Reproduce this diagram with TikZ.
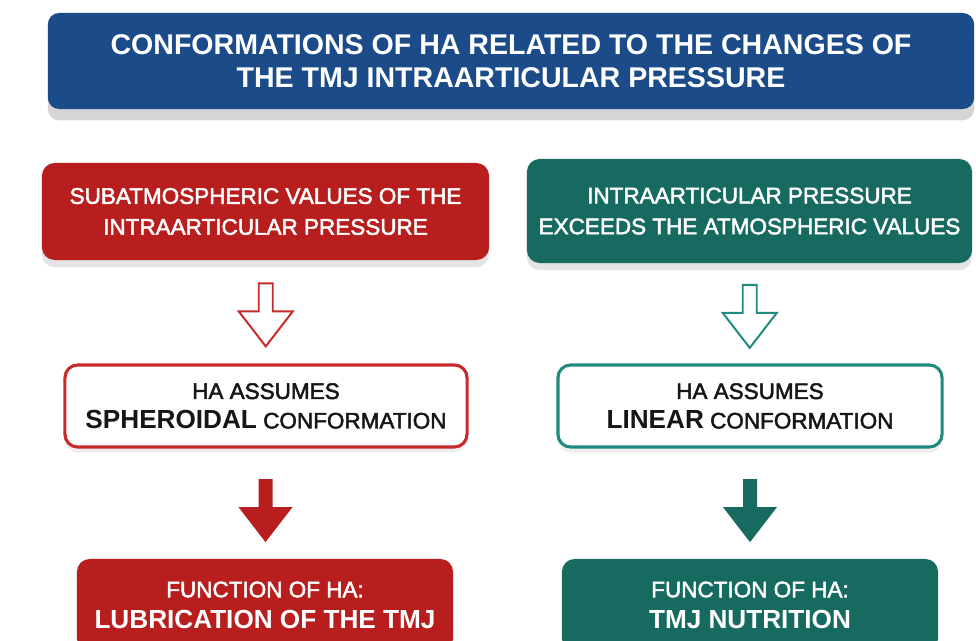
\documentclass[tikz,border=0pt]{standalone}
\usepackage{fontspec}
\setmainfont{Liberation Sans}
\newfontfamily\hamed{Liberation Sans}[RawFeature={embolden=2.2}]
\usetikzlibrary{calc,shadows}
\definecolor{HaNavy}{RGB}{27,75,136}
\definecolor{HaRed}{RGB}{184,30,30}
\definecolor{HaTeal}{RGB}{22,106,96}
\definecolor{HaRedLine}{RGB}{200,42,42}
\definecolor{HaTealLine}{RGB}{32,138,126}
\definecolor{HaInk}{RGB}{22,22,22}
\definecolor{HaShade}{RGB}{150,150,150}
\tikzset{
  ha/title/.style={
    fill=HaNavy,
    rounded corners=8pt,
    inner sep=0pt,
    text=white,
    align=center,
    minimum width=23.15cm,
    minimum height=2.4cm,
    font=\bfseries\fontsize{20.3}{23.4}\selectfont,
    drop shadow={shadow xshift=0pt,shadow yshift=-8pt,opacity=0.4,fill=HaShade}
  },
  ha/solid/.style={
    fill=#1,
    rounded corners=9pt,
    inner sep=0pt,
    text=white,
    align=center,
    font=\hamed\fontsize{16}{22}\selectfont,
    drop shadow={shadow xshift=0pt,shadow yshift=-5pt,opacity=0.25,fill=HaShade}
  },
  ha/outline/.style={
    draw=#1,
    line width=2.2pt,
    fill=white,
    rounded corners=9pt,
    inner sep=0pt,
    text=HaInk,
    align=center,
    minimum height=2.05cm,
    font=\hamed\fontsize{16}{21}\selectfont,
    drop shadow={shadow xshift=0pt,shadow yshift=-4pt,opacity=0.15,fill=HaShade}
  },
  ha/hollow/.style={draw=#1, line width=1.4pt, fill=white, line join=miter},
  ha/filled/.style={fill=#1, draw=none}
}
\newcommand{\hakey}[1]{{\normalfont\bfseries\fontsize{18.6}{21}\selectfont #1}}
% block arrow between two nodes, #4 = shift down
\newcommand{\blockarrow}[4]{%
  \path ($(#2.south)!0.5!(#3.north)$) coordinate (m);
  \draw[#1] (m) ++(-7,-31.5+#4) -- ++(0,28) -- ++(-20,0) -- ++(27,35)
    -- ++(27,-35) -- ++(-20,0) -- ++(0,-28) -- cycle;
}

\begin{document}
\begin{tikzpicture}[x=0.025cm,y=-0.025cm]
  \clip (0,0) rectangle (976,640);
  \fill[white] (0,0) rectangle (976,640);

  \node[ha/title] (title) at (511,61)
    {CONFORMATIONS OF HA RELATED TO THE CHANGES OF\\THE TMJ INTRAARTICULAR PRESSURE};

  \node[ha/solid=HaRed,minimum width=11.175cm,minimum height=2.425cm] (subatm) at (265.5,211.5)
    {SUBATMOSPHERIC VALUES OF THE\\INTRAARTICULAR PRESSURE};
  \node[ha/solid=HaTeal,minimum width=11.125cm,minimum height=2.6cm] (exceeds) at (749.5,211)
    {INTRAARTICULAR PRESSURE\\EXCEEDS THE ATMOSPHERIC VALUES};

  \node[ha/outline=HaRedLine,minimum width=10.05cm] (spheroid) at (266,406)
    {HA ASSUMES\\\hakey{SPHEROIDAL} CONFORMATION};
  \node[ha/outline=HaTealLine,minimum width=9.6cm] (linear) at (750,406)
    {HA ASSUMES\\\hakey{LINEAR} CONFORMATION};

  \node[ha/solid=HaRed,minimum width=9.4cm,minimum height=2.3cm] (lubric) at (265,605)
    {FUNCTION OF HA:\\\hakey{LUBRICATION OF THE TMJ}};
  \node[ha/solid=HaTeal,minimum width=9.4cm,minimum height=2.3cm] (nutri) at (750,605)
    {FUNCTION OF HA:\\\hakey{TMJ NUTRITION}};

  \blockarrow{ha/hollow=HaRedLine}{subatm}{spheroid}{3}
  \blockarrow{ha/hollow=HaTealLine}{exceeds}{linear}{3}
  \blockarrow{ha/filled=HaRed}{spheroid}{lubric}{7}
  \blockarrow{ha/filled=HaTeal}{linear}{nutri}{7}
\end{tikzpicture}
\end{document}
